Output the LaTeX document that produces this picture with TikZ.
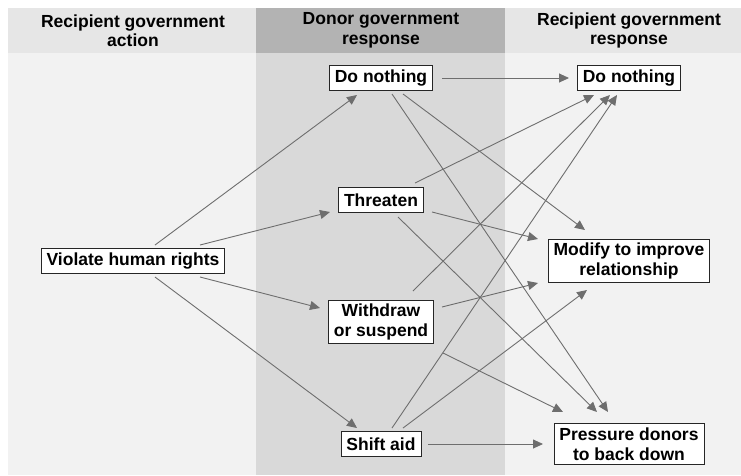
\documentclass[tikz,border=0pt]{standalone}
\usepackage{fontspec}
\setmainfont{Liberation Sans}
\usetikzlibrary{arrows.meta, positioning}
\definecolor{hgray}{HTML}{E6E6E6}
\definecolor{hdark}{HTML}{B3B3B3}
\definecolor{bgray}{HTML}{F2F2F2}
\definecolor{bdark}{HTML}{D9D9D9}
\definecolor{lgray}{HTML}{6E6E6E}
\tikzstyle{head} = [text centered, font=\fontsize{17.5pt}{19.5pt}\selectfont\bfseries]
\tikzstyle{box} = [rectangle, draw=black!85, line width=0.9pt, fill=white, inner xsep=5.5pt, inner ysep=4pt, minimum height=24.5pt, text centered, font=\fontsize{17.5pt}{19.5pt}\selectfont\bfseries]
\tikzstyle{link} = [line width=0.9pt, draw=lgray, -{Triangle[length=10pt, width=9pt]}]
\begin{document}
\begin{tikzpicture}[x=1pt, y=-1pt, align=center, node distance=122pt and 248pt, on grid]
  \useasboundingbox (0,0) rectangle (741,475);
  % columns
  \fill [hgray] (8,8) rectangle (256,53);
  \fill [hdark] (256,8) rectangle (505,53);
  \fill [hgray] (505,8) rectangle (741,53);
  \fill [bgray] (8,53) rectangle (256,475);
  \fill [bdark] (256,53) rectangle (505,475);
  \fill [bgray] (505,53) rectangle (741,475);
  \node (vhr) [box] at (133,261) {Violate human rights};
  \node (dn1) [box, above right=183pt and 248pt of vhr] {Do nothing};
  \node (thr) [box, below=of dn1] {Threaten};
  \node (wd) [box, below=of thr] {Withdraw\\or suspend};
  \node (shift) [box, below=of wd] {Shift aid};
  \node (dn2) [box, right=of dn1] {Do nothing};
  \node (mod) [box, right=496pt of vhr] {Modify to improve\\relationship};
  \node (pres) [box, right=of shift] {Pressure donors\\to back down};
  \node (hleft) [head, above=230.5pt of vhr] {Recipient government\\action};
  \node (hmid) [head, above=47.5pt of dn1] {Donor government\\response};
  \node (hright) [head, above=47.5pt of dn2] {Recipient government\\response};
  % recipient action -> donor response
  \draw [link] ([xshift=22pt, yshift=16pt]vhr.center) -- ([xshift=-24pt, yshift=-17pt]dn1.center);
  \draw [link] ([xshift=67pt, yshift=16pt]vhr.center) -- ([xshift=-51pt, yshift=-12pt]thr.center);
  \draw [link] ([xshift=67pt, yshift=-16pt]vhr.center) -- ([xshift=-61pt, yshift=14pt]wd.center);
  \draw [link] ([xshift=22pt, yshift=-16pt]vhr.center) -- ([xshift=-24pt, yshift=16pt]shift.center);
  % donor response -> recipient response
  \draw [link] ([xshift=61pt]dn1.center) -- ([xshift=-60pt]dn2.center);
  \draw [link] ([xshift=22pt, yshift=-16pt]dn1.center) -- ([xshift=-44pt, yshift=31pt]mod.center);
  \draw [link] ([xshift=11pt, yshift=-16pt]dn1.center) -- ([xshift=-21pt, yshift=32pt]pres.center);
  \draw [link] ([xshift=34pt, yshift=17pt]thr.center) -- ([xshift=-35pt, yshift=-17pt]dn2.center);
  \draw [link] ([xshift=51pt, yshift=-12pt]thr.center) -- ([xshift=-91pt, yshift=22pt]mod.center);
  \draw [link] ([xshift=17pt, yshift=-17pt]thr.center) -- ([xshift=-32pt, yshift=32pt]pres.center);
  \draw [link] ([xshift=32pt, yshift=31pt]wd.center) -- ([xshift=-19pt, yshift=-17pt]dn2.center);
  \draw [link] ([xshift=61pt, yshift=15pt]wd.center) -- ([xshift=-91pt, yshift=-22pt]mod.center);
  \draw [link] ([xshift=62pt, yshift=-31pt]wd.center) -- ([xshift=-66pt, yshift=32pt]pres.center);
  \draw [link] ([xshift=11pt, yshift=16pt]shift.center) -- ([xshift=-12pt, yshift=-17pt]dn2.center);
  \draw [link] ([xshift=22pt, yshift=16pt]shift.center) -- ([xshift=-42pt, yshift=-29pt]mod.center);
  \draw [link] ([xshift=47pt]shift.center) -- ([xshift=-86pt]pres.center);
\end{tikzpicture}
\end{document}
